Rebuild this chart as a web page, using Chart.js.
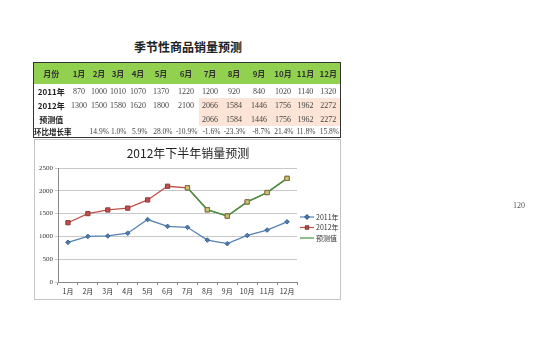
<!DOCTYPE html>
<html>
<head>
<meta charset="utf-8">
<script src="https://cdn.jsdelivr.net/npm/chart.js@4/dist/chart.umd.min.js"></script>
<style>
  html, body { margin: 0; padding: 0; background: #fff; }
  body { width: 560px; height: 339px; position: relative; overflow: hidden; }
  .camada { will-change: transform; }
  #titulo {
    position: absolute; left: 0; width: 376px; top: 38px; text-align: center;
    font: bold 12px "Noto Sans CJK SC", sans-serif; color: #222;
  }
  #tabela {
    position: absolute; left: 33px; top: 62px; width: 307px;
    border-collapse: collapse; table-layout: fixed;
    border: 1.5px solid #333; background: #fff;
    font: 8px "Liberation Serif", "Noto Sans CJK SC", serif; color: #444;
  }
  #tabela td { padding: 0; text-align: center; white-space: nowrap; overflow: visible; color: #444; }
  #tabela tr.cab td { background: #92d050; height: 21px; font: bold 8px "Noto Sans CJK SC", sans-serif; color: #333; }
  #tabela tr.lin td { height: 14px; }
  #tabela tr.cres td { height: 9px; font-size: 7.5px; text-align: right; padding-right: 1px; }
  #tabela td.rot { font: bold 8px "Noto Sans CJK SC", sans-serif; color: #222; text-align: center; padding-right: 0; }
  #tabela td.prev { background: #fce4d6; }
  #caixa {
    position: absolute; left: 34px; top: 139px; width: 305px; height: 159px;
    border: 1px solid #c4c4c4;
  }
  #caixa canvas { display: block; }
  #num {
    position: absolute; left: 513px; top: 201px; background: #fff;
    font: 8px "Liberation Serif", serif; color: #555;
  }
</style>
</head>
<body>

<div id="titulo">季节性商品销量预测</div>
<table id="tabela" class="camada"></table>
<div id="caixa"><canvas id="grafico" width="305" height="159"></canvas></div>
<div id="num" class="camada">120</div>

<script>
//--------------------------------------------------
// DADOS
//--------------------------------------------------

const meses      = ['1月', '2月', '3月', '4月', '5月', '6月', '7月', '8月', '9月', '10月', '11月', '12月'];
const vendas2011 = [870, 1000, 1010, 1070, 1370, 1220, 1200, 920, 840, 1020, 1140, 1320];
const vendas2012 = [1300, 1500, 1580, 1620, 1800, 2100, 2066, 1584, 1446, 1756, 1962, 2272];
const previsao   = [null, null, null, null, null, null, 2066, 1584, 1446, 1756, 1962, 2272];
const crescimento = ['', '14.9%', '1.0%', '5.9%', '28.0%', '-10.9%', '-1.6%', '-23.3%', '-8.7%', '21.4%', '11.8%', '15.8%'];
const rotulosLinhas = ['月份', '2011年', '2012年', '预测值', '环比增长率'];
const rotulosSeries = ['2011年', '2012年', '预测值'];
const ticksY     = [0, 500, 1000, 1500, 2000, 2500];
const tituloGrafico = '2012年下半年销量预测';

//--------------------------------------------------
// TABELA
//--------------------------------------------------

const larguras = [35, 21, 19, 19, 21, 25, 25, 23, 25, 25, 23, 22, 24];
let html = '<colgroup>' + larguras.map(w => `<col style="width:${w}px">`).join('') + '</colgroup>';

html += '<tr class="cab"><td>' + rotulosLinhas[0] + '</td>' +
  meses.map(m => `<td>${m}</td>`).join('') + '</tr>';

html += '<tr class="lin"><td class="rot">' + rotulosLinhas[1] + '</td>' +
  vendas2011.map(v => `<td>${v}</td>`).join('') + '</tr>';

html += '<tr class="lin"><td class="rot">' + rotulosLinhas[2] + '</td>' +
  vendas2012.map((v, i) => `<td class="${i >= 6 ? 'prev' : ''}">${v}</td>`).join('') + '</tr>';

html += '<tr class="lin"><td class="rot">' + rotulosLinhas[3] + '</td>' +
  previsao.map(v => v === null ? '<td></td>' : `<td class="prev">${v}</td>`).join('') + '</tr>';

html += '<tr class="cres"><td class="rot">' + rotulosLinhas[4] + '</td>' +
  crescimento.map(v => `<td>${v}</td>`).join('') + '</tr>';

document.getElementById('tabela').innerHTML = html;

//--------------------------------------------------
// TÍTULO + LEGENDA (desenhados no canvas)
//--------------------------------------------------

const tituloLegenda = {
  id: 'tituloLegenda',
  afterDraw(chart) {
    const ctx = chart.ctx;
    ctx.save();

    ctx.textAlign = 'center';
    ctx.textBaseline = 'middle';
    ctx.font = '12px "Noto Sans CJK SC", serif';
    ctx.fillStyle = '#222';
    ctx.fillText(tituloGrafico, 153, 13);

    ctx.textAlign = 'left';
    ctx.font = '7px "Noto Sans CJK SC", serif';
    rotulosSeries.forEach((nome, i) => {
      const ds = chart.data.datasets.find(d => d.label === nome);
      const y = 77 + i * 10.5;
      ctx.strokeStyle = ds.borderColor;
      ctx.lineWidth = 1.2;
      ctx.beginPath();
      ctx.moveTo(265, y);
      ctx.lineTo(279, y);
      ctx.stroke();
      if (i < 2) {
        ctx.fillStyle = ds.pointBackgroundColor;
        ctx.strokeStyle = ds.pointBorderColor;
        Chart.helpers.drawPoint(ctx, {
          pointStyle: ds.pointStyle, rotation: 0, radius: 2.2, borderWidth: 1
        }, 272, y);
      }
      ctx.fillStyle = '#333';
      ctx.fillText(nome, 281, y);
    });

    ctx.restore();
  }
};

//--------------------------------------------------
// GRÁFICO
//--------------------------------------------------

new Chart(document.getElementById('grafico'), {
  type: 'line',
  data: {
    labels: meses,
    datasets: [
      {
        label: rotulosSeries[0],
        data: vendas2011,
        order: 2,
        borderColor: '#5681b3',
        borderWidth: 1.3,
        pointStyle: 'rectRot',
        pointRadius: 2.3,
        pointBackgroundColor: '#4f7bb0',
        pointBorderColor: '#3a6496',
        pointBorderWidth: 1
      },
      {
        label: rotulosSeries[1],
        data: vendas2012,
        order: 1,
        borderColor: '#c0504d',
        borderWidth: 1.3,
        pointStyle: 'rect',
        pointRadius: 3,
        pointBackgroundColor: '#c0504d',
        pointBorderColor: '#8c3836',
        pointBorderWidth: 1
      },
      {
        label: rotulosSeries[2],
        data: previsao,
        order: 0,
        borderColor: '#3f9640',
        borderWidth: 1.4,
        pointStyle: 'rect',
        pointRadius: 3,
        pointBackgroundColor: '#cdc57a',
        pointBorderColor: '#7d7538',
        pointBorderWidth: 1
      }
    ]
  },
  options: {
    responsive: false,
    animation: false,
    devicePixelRatio: 1,
    layout: { padding: { top: 28, right: 43, left: 0, bottom: 0 } },
    plugins: {
      legend: { display: false },
      title: { display: false },
      tooltip: { enabled: false }
    },
    scales: {
      x: {
        offset: true,
        grid: { offset: true, drawOnChartArea: false, tickLength: 3, color: '#888' },
        border: { color: '#888', width: 1 },
        ticks: {
          color: '#333', padding: 2, maxRotation: 0, autoSkip: false,
          font: { family: '"Noto Sans CJK SC", serif', size: 7 }
        },
        afterFit(s) { s.height = 17; }
      },
      y: {
        min: ticksY[0],
        max: ticksY[ticksY.length - 1],
        afterBuildTicks(s) { s.ticks = ticksY.map(v => ({ value: v })); },
        grid: { color: '#c8c8c8', tickLength: 3 },
        border: { color: '#888', width: 1 },
        ticks: {
          color: '#333', padding: 2,
          callback: v => String(v),
          font: { family: '"Liberation Serif", serif', size: 7 }
        },
        afterFit(s) { s.width = 23; }
      }
    }
  },
  plugins: [tituloLegenda]
});
</script>
</body>
</html>
